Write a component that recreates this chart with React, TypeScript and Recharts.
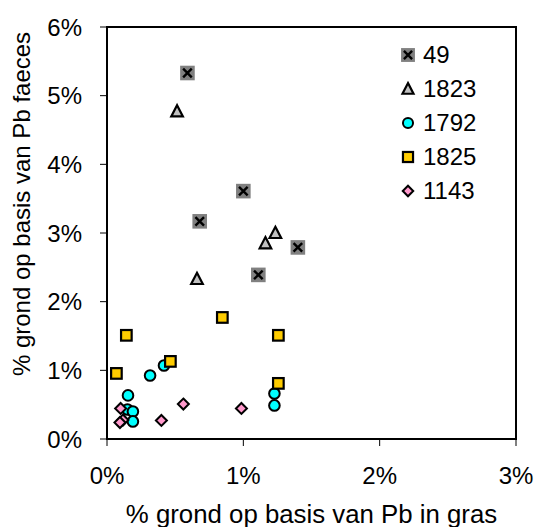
import React from 'react';
import { ScatterChart, Scatter, XAxis, YAxis, ReferenceArea, Label } from 'recharts';

const FONT = '"Liberation Sans", Arial, sans-serif';

const seriesNames = ['49', '1823', '1792', '1825', '1143'];

const x49 = [0.59, 1.0, 0.68, 1.40, 1.11];
const y49 = [5.33, 3.61, 3.17, 2.79, 2.39];

const x1823 = [0.514, 1.235, 1.162, 0.66];
const y1823 = [4.77, 3.0, 2.85, 2.33];

const x1792 = [0.418, 0.316, 0.154, 0.15, 0.19, 0.19, 1.228, 1.228];
const y1792 = [1.07, 0.925, 0.635, 0.43, 0.4, 0.256, 0.663, 0.489];

const x1825 = [0.846, 0.142, 1.257, 0.465, 0.069, 1.257];
const y1825 = [1.77, 1.51, 1.51, 1.13, 0.955, 0.81];

const x1143 = [0.1, 0.117, 0.095, 0.399, 0.56, 0.986];
const y1143 = [0.445, 0.276, 0.24, 0.27, 0.509, 0.445];

const xTicks = [0, 1, 2, 3];
const yTicks = [0, 1, 2, 3, 4, 5, 6];

const toPoints = (xs: number[], ys: number[]) => xs.map((x, i) => ({ x, y: ys[i] }));

type MarkerKind = 'xsquare' | 'triangle' | 'circle' | 'square' | 'diamond';

const Marker = ({ kind, cx, cy, s = 1 }: { kind: MarkerKind; cx: number; cy: number; s?: number }) => {
  if (kind === 'xsquare') {
    const h = 7.3 * s;
    const k = 4.3 * s;
    return (
      <g>
        <rect x={cx - h} y={cy - h} width={2 * h} height={2 * h} fill="#808080" />
        <path d={`M${cx - k},${cy - k}L${cx + k},${cy + k}M${cx - k},${cy + k}L${cx + k},${cy - k}`} stroke="#000" strokeWidth={2.4} />
      </g>
    );
  }
  if (kind === 'triangle') {
    const w = 5.8 * s;
    return (
      <path
        d={`M${cx},${cy - 6.2 * s}L${cx + w},${cy + 5 * s}L${cx - w},${cy + 5 * s}Z`}
        fill="#c0c0c0"
        stroke="#000"
        strokeWidth={2.2}
        strokeLinejoin="miter"
      />
    );
  }
  if (kind === 'circle') {
    return <circle cx={cx} cy={cy} r={5.3 * s} fill="#00ffff" stroke="#000" strokeWidth={2} />;
  }
  if (kind === 'square') {
    const h = 5.3 * s;
    return <rect x={cx - h} y={cy - h} width={2 * h} height={2 * h} fill="#ffcc00" stroke="#000" strokeWidth={2.2} />;
  }
  const d = 5.5 * s;
  return (
    <path d={`M${cx},${cy - d}L${cx + d},${cy}L${cx},${cy + d}L${cx - d},${cy}Z`} fill="#ff99cc" stroke="#000" strokeWidth={2} />
  );
};

const kinds: MarkerKind[] = ['xsquare', 'triangle', 'circle', 'square', 'diamond'];

const makeShape = (kind: MarkerKind) => (props: any) => <Marker kind={kind} cx={props.cx} cy={props.cy} />;

const XTitle = (props: any) => {
  const vb = props.viewBox;
  return (
    <text x={vb.x + vb.width / 2} y={vb.y + 84} textAnchor="middle" fontSize={25.8} fontFamily={FONT} fill="#000">
      % grond op basis van Pb in gras
    </text>
  );
};

const YTitle = (props: any) => {
  const vb = props.viewBox;
  const x = vb.x - 17;
  const y = vb.y + vb.height / 2 - 29;
  return (
    <text x={x} y={y} transform={`rotate(-90, ${x}, ${y})`} textAnchor="middle" fontSize={24} fontFamily={FONT} fill="#000">
      % grond op basis van Pb faeces
    </text>
  );
};

export default function App() {
  const datasets = [toPoints(x49, y49), toPoints(x1823, y1823), toPoints(x1792, y1792), toPoints(x1825, y1825), toPoints(x1143, y1143)];
  return (
    <div style={{ position: 'absolute', left: 0, top: 0, width: 536, height: 527, background: '#fff' }}>
      <ScatterChart width={536} height={527} margin={{ top: 27, right: 20, bottom: 28, left: 47 }}>
        <XAxis
          type="number"
          dataKey="x"
          domain={[0, 3]}
          ticks={xTicks}
          tickFormatter={(v: number) => `${v}%`}
          axisLine={{ stroke: '#000', strokeWidth: 2 }}
          tickLine={{ stroke: '#000', strokeWidth: 1 }}
          tickSize={7}
          tickMargin={21}
          height={60}
          tick={{ fill: '#000', fontSize: 24, fontFamily: FONT }}
          interval={0}
        >
          <Label content={XTitle} />
        </XAxis>
        <YAxis
          type="number"
          dataKey="y"
          domain={[0, 6]}
          ticks={yTicks}
          tickFormatter={(v: number) => `${v}%`}
          axisLine={{ stroke: '#000', strokeWidth: 2 }}
          tickLine={{ stroke: '#000', strokeWidth: 1 }}
          tickSize={7}
          tickMargin={18}
          width={60}
          tick={{ fill: '#000', fontSize: 24, fontFamily: FONT }}
          interval={0}
        >
          <Label content={YTitle} />
        </YAxis>
        <ReferenceArea x1={0} x2={3} y1={0} y2={6} fill="none" stroke="#000" strokeWidth={2} fillOpacity={0} />
        {datasets.map((d, i) => (
          <Scatter key={seriesNames[i]} name={seriesNames[i]} data={d} shape={makeShape(kinds[i])} isAnimationActive={false} />
        ))}
      </ScatterChart>
      <div style={{ position: 'absolute', left: 400, top: 38, fontFamily: FONT, fontSize: 24, color: '#000' }}>
        {seriesNames.map((n, i) => (
          <div key={n} style={{ height: 34, display: 'flex', alignItems: 'center' }}>
            <svg width={18} height={18} style={{ display: 'block' }}>
              <Marker kind={kinds[i]} cx={8} cy={9} s={0.95} />
            </svg>
            <span style={{ marginLeft: 5, lineHeight: '34px' }}>{n}</span>
          </div>
        ))}
      </div>
    </div>
  );
}
